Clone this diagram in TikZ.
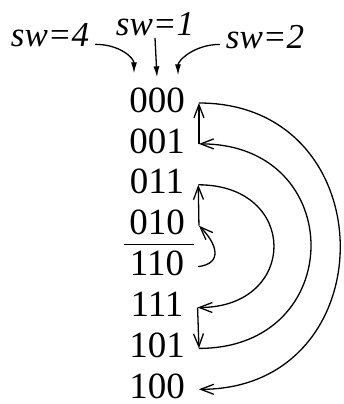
\documentclass[tikz,border=0pt]{standalone}
\usepackage{fontspec}
\setmainfont{Liberation Serif}
\usetikzlibrary{arrows.meta}

\begin{document}
\begin{tikzpicture}[x=1pt, y=1pt,
  code/.style={inner sep=0pt, font=\fontsize{37}{40}\selectfont},
  swlabel/.style={inner sep=0pt, font=\fontsize{35}{40}\selectfont\itshape},
  flip/.style={-{Straight Barb[length=13pt, width=10pt]}, line width=1.3pt},
  sel/.style={-{Latex[length=11pt, width=6pt]}, line width=1.3pt},
]
\useasboundingbox (0,0) rectangle (344,-404);

% codes, top to bottom
\foreach \c [count=\i from 0] in {000,001,011,010,110,111,101,100}{
  \node[code] (n\c) at (157,{-100-40.9*\i}) {\c};
  \coordinate (r\c) at ([xshift=14pt,yshift=-3pt]n\c.east);
}

% switch labels
\node[swlabel] (sw4) at (50,-35) {sw=4};
\node[swlabel] (sw1) at (155,-24) {sw=1};
\node[swlabel] (sw2) at (265,-37) {sw=2};

\draw[sel] ([xshift=6pt,yshift=2pt]sw4.base east)
  .. controls +(25,0) and +(0,15) .. ([xshift=-23pt,yshift=14pt]n000.north);
\draw[sel] ([yshift=-2pt]sw1.south) -- ([yshift=10pt]n000.north);
\draw[sel] ([xshift=-6pt,yshift=4pt]sw2.base west)
  .. controls +(-25,0) and +(0,15) .. ([xshift=21pt,yshift=12pt]n000.north);

% fraction bar
\draw[line width=1.1pt] ([xshift=-5pt,yshift=-9pt]n010.south west) -- ([xshift=9pt,yshift=-9pt]n010.south east);

% transitions
\draw[flip] (r001) -- (r000);
\draw[flip] (r000) .. controls +(188,0) and +(188,0) .. (r100);
\draw[flip] (r101) .. controls +(149,0) and +(149,0) .. (r001);
\draw[flip] (r011) .. controls +(101,0) and +(101,0) .. (r111);
\draw[flip] (r111) -- (r101);
\draw[flip] (r010) -- (r011);
\draw[flip] (r110) .. controls +(25,3) and +(18,-18) .. (r010);

\end{tikzpicture}
\end{document}
